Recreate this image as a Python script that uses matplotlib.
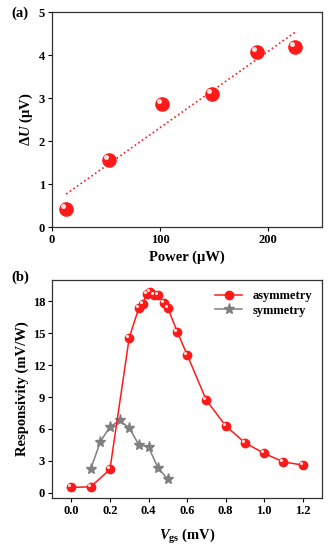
import numpy as np
import matplotlib
matplotlib.use("Agg")
import matplotlib.pyplot as plt
from matplotlib.transforms import ScaledTranslation

plt.rcParams['font.family'] = 'Liberation Serif'
plt.rcParams['font.weight'] = 'bold'
plt.rcParams['mathtext.fontset'] = 'custom'
plt.rcParams['mathtext.rm'] = 'Liberation Serif:bold'
plt.rcParams['mathtext.it'] = 'Liberation Serif:italic:bold'
plt.rcParams['mathtext.bf'] = 'Liberation Serif:bold'

# panel (a)
power = [13, 53, 102, 148, 190, 225]
dU = [0.42, 1.55, 2.87, 3.10, 4.08, 4.18]
fit_x = [13, 225]
fit_y = [0.77, 4.53]

# panel (b)
vgs_asym = [0.0, 0.1, 0.2, 0.3, 0.35, 0.37, 0.39, 0.41, 0.43, 0.45, 0.48, 0.5,
            0.55, 0.6, 0.7, 0.8, 0.9, 1.0, 1.1, 1.2]
resp_asym = [0.5, 0.55, 2.2, 14.6, 17.4, 17.8, 18.7, 18.9, 18.6, 18.6, 17.9, 17.4,
             15.1, 13.0, 8.7, 6.3, 4.7, 3.7, 2.9, 2.6]
vgs_sym = [0.1, 0.15, 0.2, 0.25, 0.3, 0.35, 0.4, 0.45, 0.5]
resp_sym = [2.2, 4.8, 6.2, 6.8, 6.1, 4.5, 4.3, 2.3, 1.3]

red = '#ff1a1a'
grey = '#808080'

fig = plt.figure(figsize=(3.32, 5.5), dpi=100)
ax1 = fig.add_axes([0.157, 0.587, 0.813, 0.391])
ax2 = fig.add_axes([0.157, 0.0945, 0.813, 0.396])


def shine(ax, x, y, size):
    # small white highlight for the glossy ball markers
    off = ax.transData + ScaledTranslation(-size / 300, size / 300, fig.dpi_scale_trans)
    ax.plot(x, y, 'o', ms=size * 0.38, color='#ffe0e0', mec='none',
            transform=off, zorder=5)


ax1.plot(fit_x, fit_y, ':', color=red, lw=1.2)
ax1.plot(power, dU, 'o', ms=9.5, color=red, mec=red, zorder=4)
shine(ax1, power, dU, 9.5)
ax1.set_xlim(0, 250)
ax1.set_ylim(0, 5)
ax1.set_xticks([0, 100, 200])
ax1.set_yticks([0, 1, 2, 3, 4, 5])
ax1.set_xlabel('Power (μW)', fontsize=10.5, fontweight='bold', labelpad=3)
ax1.set_ylabel(r'$\Delta U$ (μV)', fontsize=10.5, fontweight='bold', labelpad=3)

ax2.plot(vgs_asym, resp_asym, '-o', color=red, ms=6, mec=red, lw=1.1,
         label='asymmetry', zorder=4)
shine(ax2, vgs_asym, resp_asym, 6)
ax2.plot(vgs_sym, resp_sym, '-*', color=grey, ms=8, mec=grey, lw=1.1,
         label='symmetry', zorder=3)
ax2.set_xlim(-0.1, 1.3)
ax2.set_ylim(-0.5, 20)
ax2.set_xticks(np.arange(0, 1.21, 0.2))
ax2.set_yticks(range(0, 19, 3))
ax2.xaxis.set_major_formatter(matplotlib.ticker.FormatStrFormatter('%.1f'))
ax2.set_xlabel(r'$V_{\rm gs}$ (mV)', fontsize=10.5, fontweight='bold', labelpad=7)
ax2.set_ylabel('Responsivity (mV/W)', fontsize=10.5, fontweight='bold', labelpad=3)
ax2.legend(loc='upper right', frameon=False, handlelength=2.2,
           borderaxespad=0.4, labelspacing=0.2, prop={'weight': 'bold', 'size': 9})

for ax in (ax1, ax2):
    ax.tick_params(direction='out', length=3, width=0.8, labelsize=9, pad=2)
    for lbl in ax.get_xticklabels() + ax.get_yticklabels():
        lbl.set_fontweight('bold')
    for s in ax.spines.values():
        s.set_linewidth(0.9)
        s.set_color('#333333')

fig.text(0.035, 0.975, '(a)', fontsize=10.5, fontweight='bold', va='center')
fig.text(0.035, 0.495, '(b)', fontsize=10.5, fontweight='bold', va='center')

fig.savefig('out.png', dpi=100)
